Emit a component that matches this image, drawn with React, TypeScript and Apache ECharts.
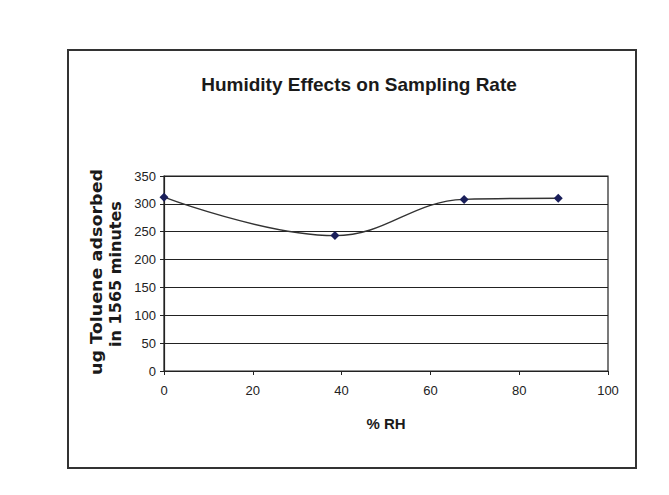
import React, { useEffect, useRef } from "react";
import * as echarts from "echarts";

const titleText = "Humidity Effects on Sampling Rate";
const xName = "% RH";
const yNameLine1 = "ug Toluene adsorbed";
const yNameLine2 = "in 1565 minutes";
const rhValues = [0, 38.5, 67.6, 88.8];
const tolueneValues = [312, 243, 308, 310];

export default function App() {
  const ref = useRef<HTMLDivElement>(null);
  useEffect(() => {
    if (!ref.current) return;
    const chart = echarts.init(ref.current, undefined, { renderer: "svg" });
    const narrow = "'Liberation Sans Narrow', 'Arial Narrow', 'Liberation Sans', sans-serif";
    chart.setOption({
      animation: false,
      backgroundColor: "#ffffff",
      title: {
        text: titleText,
        left: 354,
        textAlign: "center",
        top: 70,
        textStyle: { fontFamily: narrow, fontWeight: "bold", fontSize: 19, color: "#1a1a1a" },
      },
      graphic: [
        {
          type: "rect",
          shape: { x: 68, y: 50, width: 568, height: 418 },
          style: { fill: "none", stroke: "#333", lineWidth: 2 },
          silent: true,
        },
        {
          type: "text",
          x: 97,
          y: 272,
          rotation: Math.PI / 2,
          scaleX: 1.17,
          style: {
            text: yNameLine1,
            fontFamily: "'DejaVu Sans', sans-serif",
            fontWeight: "bold",
            fontSize: 15,
            fill: "#1a1a1a",
            align: "center",
            verticalAlign: "middle",
          },
        },
        {
          type: "text",
          x: 116,
          y: 274,
          rotation: Math.PI / 2,
          scaleX: 1.07,
          style: {
            text: yNameLine2,
            fontFamily: "'DejaVu Sans', sans-serif",
            fontWeight: "bold",
            fontSize: 15,
            fill: "#1a1a1a",
            align: "center",
            verticalAlign: "middle",
          },
        },
      ],
      grid: {
        left: 164,
        right: 61,
        top: 176,
        bottom: 124,
        show: true,
        borderColor: "#222",
        borderWidth: 1.2,
        containLabel: false,
      },
      xAxis: {
        type: "value",
        min: 0,
        max: 100,
        interval: 20,
        name: xName,
        nameLocation: "middle",
        nameGap: 45,
        nameTextStyle: { fontFamily: narrow, fontWeight: "bold", fontSize: 15, color: "#1a1a1a" },
        axisLine: { show: true, lineStyle: { color: "#222", width: 1.2 } },
        axisTick: { show: true, length: 4, lineStyle: { color: "#222" } },
        axisLabel: { fontFamily: narrow, fontSize: 13, color: "#222", margin: 13 },
        splitLine: { show: false },
      },
      yAxis: {
        type: "value",
        min: 0,
        max: 350,
        interval: 50,
        axisLine: { show: true, lineStyle: { color: "#222", width: 1.2 } },
        axisTick: { show: true, length: 4, lineStyle: { color: "#222" } },
        axisLabel: { fontFamily: narrow, fontSize: 13, color: "#222", margin: 8 },
        splitLine: { show: true, lineStyle: { color: "#222", width: 1.2 } },
      },
      series: [
        {
          type: "line",
          data: rhValues.map((x, i) => [x, tolueneValues[i]]),
          smooth: 0.4,
          symbol: "diamond",
          symbolSize: 9,
          itemStyle: { color: "#1a1f5a" },
          lineStyle: { color: "#333", width: 1.4 },
        },
      ],
    });
    return () => chart.dispose();
  }, []);
  return (
    <div
      ref={ref}
      style={{ position: "absolute", left: 0, top: 0, width: 669, height: 495 }}
    />
  );
}
